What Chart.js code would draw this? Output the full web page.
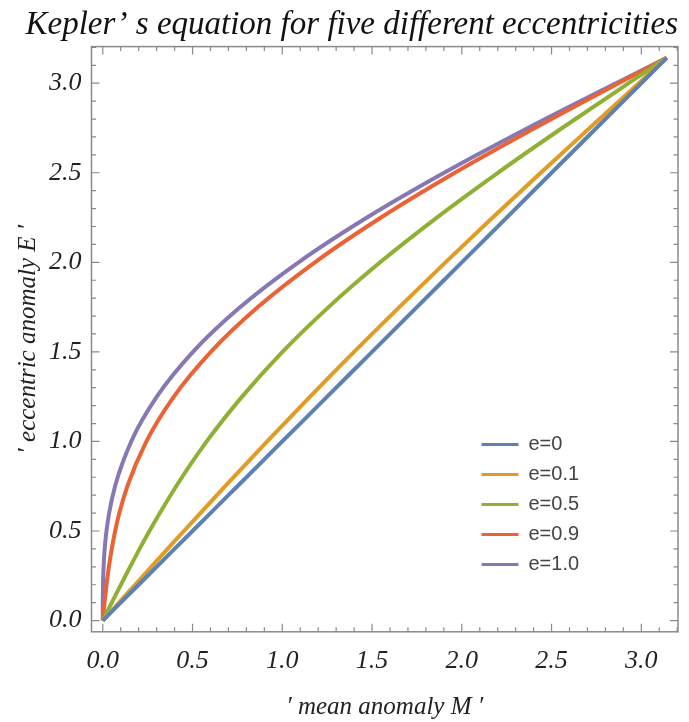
<!DOCTYPE html>
<html>
<head>
<meta charset="utf-8">
<script src="https://cdn.jsdelivr.net/npm/chart.js@4"></script>
<style>
  html, body { margin: 0; padding: 0; background: #fff; }
  #wrap { width: 689px; height: 722px; }
</style>
</head>
<body>
<div id="wrap"><canvas id="kepler"></canvas></div>
<script>
// eccentric anomaly E
const eccAnomaly = [0, 0.05, 0.1, 0.2, 0.3, 0.4, 0.5, 0.6, 0.75, 1.0, 1.25, 1.5, 1.75, 2.0, 2.25, 2.5, 2.75, 3.0, 3.1416];

// mean anomaly M for each eccentricity at the E values above
const meanE0  = [0, 0.05, 0.1, 0.2, 0.3, 0.4, 0.5, 0.6, 0.75, 1.0, 1.25, 1.5, 1.75, 2.0, 2.25, 2.5, 2.75, 3.0, 3.1416];
const meanE01 = [0, 0.045, 0.090, 0.180, 0.270, 0.361, 0.452, 0.544, 0.682, 0.916, 1.155, 1.400, 1.652, 1.909, 2.172, 2.440, 2.712, 2.986, 3.1416];
const meanE05 = [0, 0.025, 0.050, 0.101, 0.152, 0.205, 0.260, 0.318, 0.409, 0.579, 0.776, 1.001, 1.258, 1.545, 1.861, 2.201, 2.559, 2.929, 3.1416];
const meanE09 = [0, 0.005, 0.010, 0.021, 0.034, 0.050, 0.069, 0.092, 0.137, 0.243, 0.396, 0.602, 0.864, 1.182, 1.550, 1.961, 2.407, 2.873, 3.1416];
const meanE10 = [0, 0.00002, 0.00017, 0.0013, 0.0045, 0.0106, 0.0206, 0.0354, 0.0684, 0.1585, 0.3010, 0.5025, 0.7660, 1.0907, 1.4719, 1.9015, 2.3683, 2.8589, 3.1416];

const seriesLabels = ['e=0', 'e=0.1', 'e=0.5', 'e=0.9', 'e=1.0'];
const seriesMean = [meanE0, meanE01, meanE05, meanE09, meanE10];
const colors = ['#5E81B5', '#E19C24', '#8FB032', '#EB6235', '#8778B3'];

const tickVals = [0, 0.5, 1.0, 1.5, 2.0, 2.5, 3.0];
const axisMin = -0.0628, axisMax = 3.2044;

const serif = "'Liberation Serif', 'DejaVu Serif', serif";

const datasets = seriesLabels.map((lab, i) => ({
    label: lab,
    data: seriesMean[i].map((m, j) => ({ x: m, y: eccAnomaly[j] })),
    borderColor: colors[i],
    backgroundColor: colors[i],
    borderWidth: 4,
    pointRadius: 0,
    showLine: true,
    cubicInterpolationMode: 'monotone',
    fill: false
}));

// Mathematica-style frame with inward ticks on all four sides
const framePlugin = {
    id: 'frame',
    afterDatasetsDraw(chart) {
        const { ctx, chartArea: a, scales } = chart;
        ctx.save();
        ctx.strokeStyle = '#8a8a8a';
        ctx.lineWidth = 1.5;
        ctx.strokeRect(a.left, a.top, a.right - a.left, a.bottom - a.top);
        ctx.lineWidth = 1.2;
        for (let k = 0; k <= 32; k++) {
            const v = k / 10;
            const major = k % 5 === 0;
            const len = major ? 8 : 4.5;
            const px = scales.x.getPixelForValue(v);
            const py = scales.y.getPixelForValue(v);
            ctx.beginPath();
            if (px <= a.right) {
                ctx.moveTo(px, a.bottom); ctx.lineTo(px, a.bottom - len);
                ctx.moveTo(px, a.top); ctx.lineTo(px, a.top + len);
            }
            if (py >= a.top) {
                ctx.moveTo(a.left, py); ctx.lineTo(a.left + len, py);
                ctx.moveTo(a.right, py); ctx.lineTo(a.right - len, py);
            }
            ctx.stroke();
        }
        ctx.restore();
    }
};

// legend box inside the plot
const legendPlugin = {
    id: 'insideLegend',
    afterDraw(chart) {
        const { ctx, chartArea: a } = chart;
        const x0 = a.left + 390, y0 = a.top + 398;
        ctx.save();
        ctx.font = "20px 'Liberation Sans', Arial, sans-serif";
        ctx.textBaseline = 'middle';
        chart.data.datasets.forEach((ds, i) => {
            const y = y0 + i * 30;
            ctx.strokeStyle = ds.borderColor;
            ctx.lineWidth = 3;
            ctx.beginPath();
            ctx.moveTo(x0, y); ctx.lineTo(x0 + 37, y);
            ctx.stroke();
            ctx.fillStyle = '#444';
            ctx.fillText(ds.label, x0 + 47, y);
        });
        ctx.restore();
    }
};

function fixTicks(scale) {
    scale.ticks = tickVals.map(v => ({ value: v }));
}

new Chart(document.getElementById('kepler'), {
    type: 'scatter',
    data: { datasets },
    options: {
        responsive: true,
        maintainAspectRatio: false,
        animation: false,
        layout: { padding: { left: 13, right: 11, top: 0, bottom: 0 } },
        plugins: {
            legend: { display: false },
            tooltip: { enabled: false },
            title: {
                display: true,
                align: 'end',
                text: 'Kepler\u2019 s equation for five different eccentricities',
                color: '#111',
                font: { family: serif, size: 33, style: 'italic', weight: 'normal' },
                padding: { top: 6, bottom: 1 }
            }
        },
        scales: {
            x: {
                type: 'linear',
                min: axisMin,
                max: axisMax,
                afterBuildTicks: fixTicks,
                grid: { display: false },
                border: { display: false },
                ticks: {
                    color: '#222',
                    padding: 6,
                    font: { family: serif, size: 26, style: 'italic' },
                    callback: v => v.toFixed(1)
                },
                title: {
                    display: true,
                    text: '\u2032 mean anomaly M \u2032',
                    color: '#222',
                    font: { family: serif, size: 25, style: 'italic' },
                    padding: { top: 9, bottom: 0 }
                }
            },
            y: {
                type: 'linear',
                min: axisMin,
                max: axisMax,
                afterBuildTicks: fixTicks,
                grid: { display: false },
                border: { display: false },
                ticks: {
                    color: '#222',
                    padding: 2,
                    font: { family: serif, size: 26, style: 'italic' },
                    callback: v => v.toFixed(1)
                },
                title: {
                    display: true,
                    text: '\u2032 eccentric anomaly E \u2032',
                    color: '#222',
                    font: { family: serif, size: 25, style: 'italic' },
                    padding: { top: 0, bottom: 4 }
                }
            }
        }
    },
    plugins: [framePlugin, legendPlugin]
});
</script>
</body>
</html>
